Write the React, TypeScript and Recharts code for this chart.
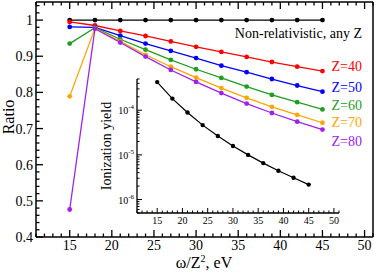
import React from 'react';
import { LineChart, Line, XAxis, YAxis } from 'recharts';

// photon energy scaled by Z^2 (eV)
const omega = [15, 18, 21, 24, 27, 30, 33, 36, 39, 42, 45];

const nonRel = [1, 1, 1, 1, 1, 1, 1, 1, 1, 1, 1];
const z40 = [0.995, 0.985, 0.97, 0.956, 0.941, 0.926, 0.912, 0.898, 0.884, 0.871, 0.859];
const z50 = [0.981, 0.98, 0.957, 0.935, 0.915, 0.895, 0.874, 0.856, 0.837, 0.819, 0.802];
const z60 = [0.935, 0.979, 0.947, 0.918, 0.89, 0.864, 0.84, 0.816, 0.793, 0.773, 0.753];
const z70 = [0.789, 0.977, 0.941, 0.904, 0.871, 0.841, 0.812, 0.785, 0.76, 0.738, 0.716];
const z80 = [0.476, 0.976, 0.938, 0.899, 0.862, 0.829, 0.798, 0.769, 0.743, 0.719, 0.697];

// inset: ionization yield (log scale)
const ionYield = [4.26e-4, 1.82e-4, 8.9e-5, 4.64e-5, 2.64e-5, 1.58e-5, 1.0e-5, 6.54e-6, 4.41e-6, 3.08e-6, 2.16e-6];

const seriesKeys = ['nr', 'z40', 'z50', 'z60', 'z70', 'z80'];
const seriesValues = [nonRel, z40, z50, z60, z70, z80];
const seriesColors = ['#000000', '#ff0000', '#0000ff', '#1f9e1f', '#ffa500', '#a020f0'];
const seriesLabels = ['Non-relativistic, any Z', 'Z=40', 'Z=50', 'Z=60', 'Z=70', 'Z=80'];

const mainXMajor = [15, 20, 25, 30, 35, 40, 45, 50];
const mainYMajor = [0.4, 0.5, 0.6, 0.7, 0.8, 0.9, 1];
const insetYMajor = [1e-6, 1e-5, 1e-4];
const insetYLabels = ['-6', '-5', '-4'];

const mainData = omega.map((x, i) => {
  const row: Record<string, number> = { x };
  seriesKeys.forEach((k, j) => (row[k] = seriesValues[j][i]));
  return row;
});
const insetData = omega.map((x, i) => ({ x, y: ionYield[i] }));

const FONT = "'Liberation Serif', 'Times New Roman', serif";

const range = (a: number, b: number, step: number) => {
  const out: number[] = [];
  for (let v = a; v <= b + 1e-9; v += step) out.push(Math.round(v * 1000) / 1000);
  return out;
};
const xMinor = range(11, 51, 1);
const yMinor = range(0.4, 1.04, 0.02);
const logTicks: number[] = [];
[-7, -6, -5, -4].forEach((d) => {
  for (let m = 1; m <= 9; m++) {
    const v = Number((m * Math.pow(10, d)).toPrecision(3));
    if (v >= 5e-7 && v <= 5e-4) logTicks.push(v);
  }
});

const isMajorX = (v: number) => mainXMajor.some((m) => Math.abs(m - v) < 1e-6);
const isMajorY = (v: number) => mainYMajor.some((m) => Math.abs(m - v) < 1e-6);
const fmtY = (v: number) => (v === 1 ? '1' : v.toFixed(1));

const axisLine = { stroke: '#000', strokeWidth: 1.5 };

const BottomTick = (p: any) => {
  const major = isMajorX(p.payload.value);
  return (
    <g>
      <line x1={p.x} x2={p.x} y1={p.y} y2={p.y - (major ? 7 : 3.5)} stroke="#000" strokeWidth={1.3} />
      {major && (
        <text x={p.x} y={p.y + 13} textAnchor="middle" fontSize={14} style={{ fontFamily: FONT }} fill="#000">
          {p.payload.value}
        </text>
      )}
    </g>
  );
};
const TopTick = (p: any) => {
  const major = isMajorX(p.payload.value);
  return <line x1={p.x} x2={p.x} y1={p.y} y2={p.y + (major ? 7 : 3.5)} stroke="#000" strokeWidth={1.3} />;
};
const LeftTick = (p: any) => {
  const major = isMajorY(p.payload.value);
  return (
    <g>
      <line x1={p.x} x2={p.x + (major ? 7 : 3.5)} y1={p.y} y2={p.y} stroke="#000" strokeWidth={1.3} />
      {major && (
        <text x={p.x - 3} y={p.y + 5} textAnchor="end" fontSize={14} style={{ fontFamily: FONT }} fill="#000">
          {fmtY(p.payload.value)}
        </text>
      )}
    </g>
  );
};
const RightTick = (p: any) => {
  const major = isMajorY(p.payload.value);
  return <line x1={p.x} x2={p.x - (major ? 7 : 3.5)} y1={p.y} y2={p.y} stroke="#000" strokeWidth={1.3} />;
};

const InsetXTick = (p: any) => {
  const major = isMajorX(p.payload.value);
  return (
    <g>
      <line x1={p.x} x2={p.x} y1={p.y} y2={p.y - (major ? 5 : 2.5)} stroke="#000" strokeWidth={1} />
      {major && (
        <text x={p.x} y={p.y + 11} textAnchor="middle" fontSize={10} style={{ fontFamily: FONT }} fill="#000">
          {p.payload.value}
        </text>
      )}
    </g>
  );
};
const InsetYTick = (p: any) => {
  const idx = insetYMajor.findIndex((m) => Math.abs(m - p.payload.value) / m < 1e-6);
  const major = idx >= 0;
  return (
    <g>
      <line x1={p.x} x2={p.x + (major ? 5 : 2.5)} y1={p.y} y2={p.y} stroke="#000" strokeWidth={1} />
      {major && (
        <text x={p.x - 3} y={p.y + 4} textAnchor="end" fontSize={10} style={{ fontFamily: FONT }} fill="#000">
          10
          <tspan dy={-5} fontSize={7}>
            {insetYLabels[idx]}
          </tspan>
        </text>
      )}
    </g>
  );
};

const labelY = [38, 70.5, 91.5, 110, 127, 146];

export default function App() {
  return (
    <div style={{ position: 'absolute', left: 0, top: 0, width: 374, height: 275, background: '#fff' }}>
      <div style={{ position: 'absolute', left: 0, top: 0 }}>
        <LineChart width={374} height={275} data={mainData} margin={{ top: 1, right: 0, bottom: 37, left: 35 }}>
          <XAxis dataKey="x" type="number" domain={[11, 51]} ticks={xMinor} interval={0} height={1}
            tickSize={0} tickMargin={0} tickLine={false} axisLine={axisLine} tick={BottomTick} />
          <XAxis xAxisId="top" orientation="top" dataKey="x" type="number" domain={[11, 51]} ticks={xMinor}
            interval={0} height={1} tickSize={0} tickMargin={0} tickLine={false} axisLine={axisLine} tick={TopTick} />
          <YAxis type="number" domain={[0.4, 1.05]} ticks={yMinor} interval={0} width={1} allowDataOverflow
            tickSize={0} tickMargin={0} tickLine={false} axisLine={axisLine} tick={LeftTick} />
          <YAxis yAxisId="right" orientation="right" type="number" domain={[0.4, 1.05]} ticks={yMinor}
            interval={0} width={1} tickSize={0} tickMargin={0} tickLine={false} axisLine={axisLine} tick={RightTick} />
          {seriesKeys.map((k, i) => (
            <Line key={k} dataKey={k} stroke={seriesColors[i]} strokeWidth={1.3} isAnimationActive={false}
              dot={{ r: 2.4, fill: seriesColors[i], stroke: 'none' }} activeDot={false} />
          ))}
        </LineChart>
      </div>
      <div style={{ position: 'absolute', left: 0, top: 0 }}>
        <LineChart width={374} height={275} data={insetData} margin={{ top: 79, right: 35, bottom: 61, left: 136 }}>
          <XAxis dataKey="x" type="number" domain={[11, 51]} ticks={xMinor} interval={0} height={1}
            tickSize={0} tickMargin={0} tickLine={false} axisLine={{ stroke: '#000', strokeWidth: 1.3 }} tick={InsetXTick} />
          <YAxis type="number" scale="log" domain={[5e-7, 5e-4]} ticks={logTicks} interval={0} width={1}
            allowDataOverflow tickSize={0} tickMargin={0} tickLine={false}
            axisLine={{ stroke: '#000', strokeWidth: 1.3 }} tick={InsetYTick} />
          <Line dataKey="y" stroke="#000" strokeWidth={1.2} isAnimationActive={false}
            dot={{ r: 2.2, fill: '#000', stroke: 'none' }} activeDot={false} />
        </LineChart>
      </div>
      <svg width={374} height={275} style={{ position: 'absolute', left: 0, top: 0, pointerEvents: 'none', fontFamily: FONT }}>
        {seriesLabels.map((t, i) => (
          <text key={t} x={362} y={labelY[i]} textAnchor="end" fontSize={14} fill={seriesColors[i]}>
            {t}
          </text>
        ))}
        <text transform="translate(13.5,117) rotate(-90)" textAnchor="middle" fontSize={16} fill="#000">
          Ratio
        </text>
        <text transform="translate(111,146) rotate(-90)" textAnchor="middle" fontSize={14} fill="#000">
          Ionization yield
        </text>
        <text x={204} y={268} textAnchor="middle" fontSize={16} fill="#000">
          ω/Z
          <tspan dy={-6} fontSize={10}>2</tspan>
          <tspan dy={6}>, eV</tspan>
        </text>
      </svg>
    </div>
  );
}
